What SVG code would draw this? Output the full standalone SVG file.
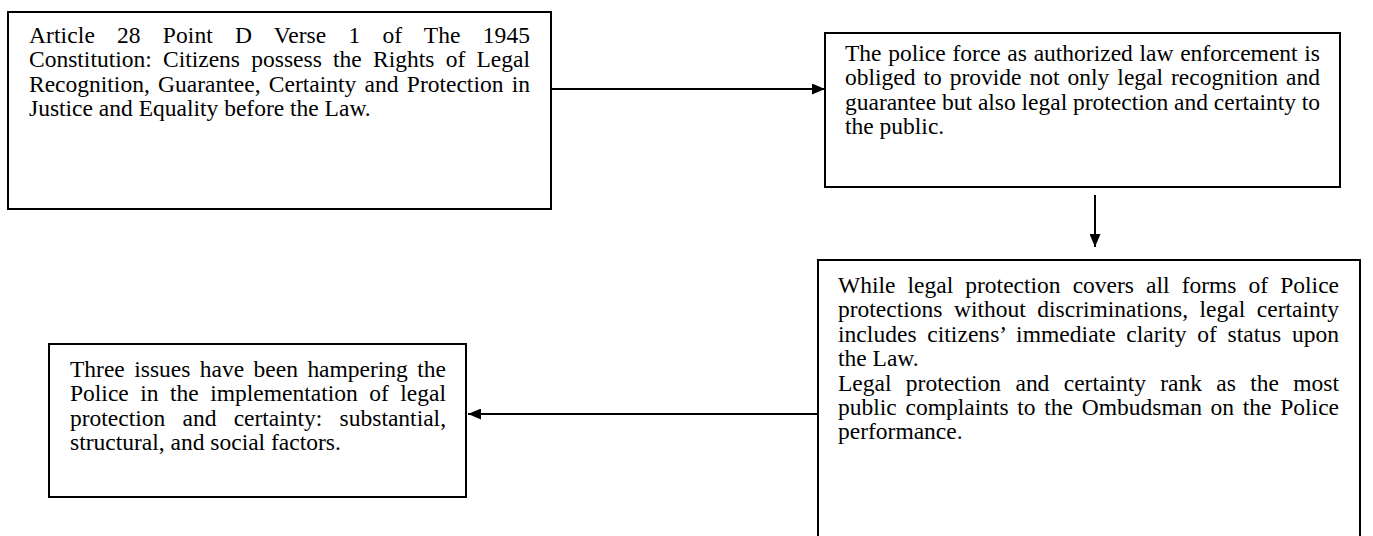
<svg xmlns="http://www.w3.org/2000/svg" width="1373" height="536" viewBox="0 0 1373 536">
<style>
.box{fill:#fff;stroke:#000;stroke-width:2}
.t{font-family:"Liberation Serif","Times New Roman",serif;font-size:23.5px;fill:#000}
.c{stroke:#000;stroke-width:2;fill:none}
</style>
<defs>
<marker id="ah" markerWidth="13" markerHeight="11" refX="13" refY="5.5" orient="auto" markerUnits="userSpaceOnUse">
<path d="M0,0 L13,5.5 L0,11 Z" fill="#000"/>
</marker>
</defs>
<rect width="1373" height="536" fill="#fff"/>
<g id="node1">
<rect class="box" x="8" y="12" width="543" height="197"/>
<text class="t">
<tspan x="29" y="43" word-spacing="16.1" textLength="501" lengthAdjust="spacing">Article 28 Point D Verse 1 of The 1945</tspan>
<tspan x="29" y="67.4" word-spacing="5.38" textLength="501" lengthAdjust="spacing">Constitution: Citizens possess the Rights of Legal</tspan>
<tspan x="29" y="91.8" word-spacing="2.42" textLength="501" lengthAdjust="spacing">Recognition, Guarantee, Certainty and Protection in</tspan>
<tspan x="29" y="116.2">Justice and Equality before the Law.</tspan>
</text>
</g>
<g id="node2">
<rect class="box" x="825" y="33" width="515" height="154"/>
<text class="t">
<tspan x="845" y="61" word-spacing="0.83" textLength="475" lengthAdjust="spacing">The police force as authorized law enforcement is</tspan>
<tspan x="845" y="85.4" word-spacing="2.11" textLength="475" lengthAdjust="spacing">obliged to provide not only legal recognition and</tspan>
<tspan x="845" y="109.8" textLength="475" lengthAdjust="spacing">guarantee but also legal protection and certainty to</tspan>
<tspan x="845" y="134.2">the public.</tspan>
</text>
</g>
<g id="node3">
<rect class="box" x="818" y="260" width="542" height="300"/>
<text class="t">
<tspan x="838" y="293" word-spacing="6.21" textLength="501" lengthAdjust="spacing">While legal protection covers all forms of Police</tspan>
<tspan x="838" y="317.4" word-spacing="5.63" textLength="501" lengthAdjust="spacing">protections without discriminations, legal certainty</tspan>
<tspan x="838" y="341.8" word-spacing="4.73" textLength="501" lengthAdjust="spacing">includes citizens’ immediate clarity of status upon</tspan>
<tspan x="838" y="366.2">the Law.</tspan>
<tspan x="838" y="390.6" word-spacing="8.45" textLength="501" lengthAdjust="spacing">Legal protection and certainty rank as the most</tspan>
<tspan x="838" y="415" word-spacing="2.84" textLength="501" lengthAdjust="spacing">public complaints to the Ombudsman on the Police</tspan>
<tspan x="838" y="439.4">performance.</tspan>
</text>
</g>
<g id="node4">
<rect class="box" x="49" y="344" width="417" height="153"/>
<text class="t">
<tspan x="70" y="377" word-spacing="3.54" textLength="376" lengthAdjust="spacing">Three issues have been hampering the</tspan>
<tspan x="70" y="401.4" word-spacing="5.62" textLength="376" lengthAdjust="spacing">Police in the implementation of legal</tspan>
<tspan x="70" y="425.8" word-spacing="11.33" textLength="376" lengthAdjust="spacing">protection and certainty: substantial,</tspan>
<tspan x="70" y="450.2">structural, and social factors.</tspan>
</text>
</g>
<g id="connectors">
<line class="c" x1="552" y1="89" x2="825" y2="89" marker-end="url(#ah)"/>
<line class="c" x1="1095" y1="195" x2="1095" y2="247" marker-end="url(#ah)"/>
<line class="c" x1="817" y1="414" x2="468" y2="414" marker-end="url(#ah)"/>
</g>
</svg>
